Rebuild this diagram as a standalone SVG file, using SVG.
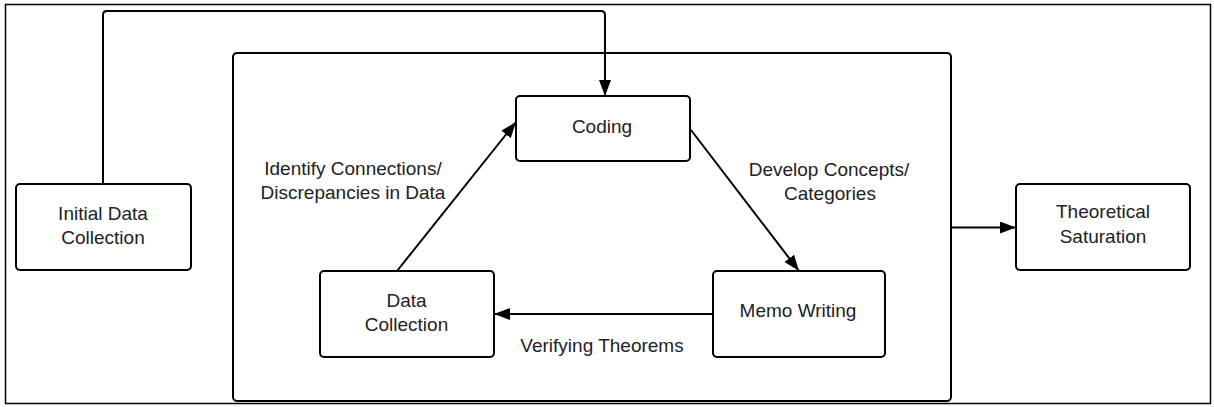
<svg xmlns="http://www.w3.org/2000/svg" width="1214" height="407" viewBox="0 0 1214 407">
<defs>
<style>
.box{fill:#fff;stroke:#000;stroke-width:2}
.frame{fill:#fff;stroke:#000;stroke-width:1.5}
.t{font-family:"Liberation Sans",Arial,sans-serif;font-size:19px;fill:#222;text-anchor:middle}
.c{fill:none;stroke:#000;stroke-width:2}
</style>
<marker id="ah" viewBox="0 0 16 12" refX="16" refY="6" markerWidth="16" markerHeight="12" markerUnits="userSpaceOnUse" orient="auto">
<path d="M0,0 L16,6 L0,12 z" fill="#000"/>
</marker>
</defs>
<rect x="5.5" y="4.5" width="1205" height="399" class="frame"/>
<g id="container">
<rect x="233" y="53" width="718" height="348" rx="4" class="box"/>
</g>
<g id="initial">
<rect x="16" y="184" width="175" height="86" rx="4" class="box"/>
<text class="t" x="103" y="219.5">Initial Data</text>
<text class="t" x="103" y="243.5">Collection</text>
</g>
<g id="coding">
<rect x="516" y="96" width="174" height="65" rx="4" class="box"/>
<text class="t" x="602" y="133">Coding</text>
</g>
<g id="memo">
<rect x="713" y="271" width="172" height="86" rx="4" class="box"/>
<text class="t" x="798" y="317">Memo Writing</text>
</g>
<g id="datacoll">
<rect x="320" y="271" width="174" height="86" rx="4" class="box"/>
<text class="t" x="406.5" y="306.5">Data</text>
<text class="t" x="406.5" y="330.5">Collection</text>
</g>
<g id="saturation">
<rect x="1016" y="184" width="174" height="86" rx="4" class="box"/>
<text class="t" x="1103" y="218">Theoretical</text>
<text class="t" x="1103" y="243">Saturation</text>
</g>
<g id="connectors">
<path class="c" d="M103,184 V15 Q103,11 107,11 H601 Q605,11 605,15 V96" marker-end="url(#ah)"/>
<path class="c" d="M397,271 L516,122" marker-end="url(#ah)"/>
<path class="c" d="M691,130 L799,271" marker-end="url(#ah)"/>
<path class="c" d="M713,314 H494" marker-end="url(#ah)"/>
<path class="c" d="M951,227.5 H1016" marker-end="url(#ah)"/>
</g>
<g id="labels">
<text class="t" x="353" y="175">Identify Connections/</text>
<text class="t" x="353" y="199">Discrepancies in Data</text>
<text class="t" x="829" y="176">Develop Concepts/</text>
<text class="t" x="830" y="200">Categories</text>
<text class="t" x="602" y="351.5">Verifying Theorems</text>
</g>
</svg>
